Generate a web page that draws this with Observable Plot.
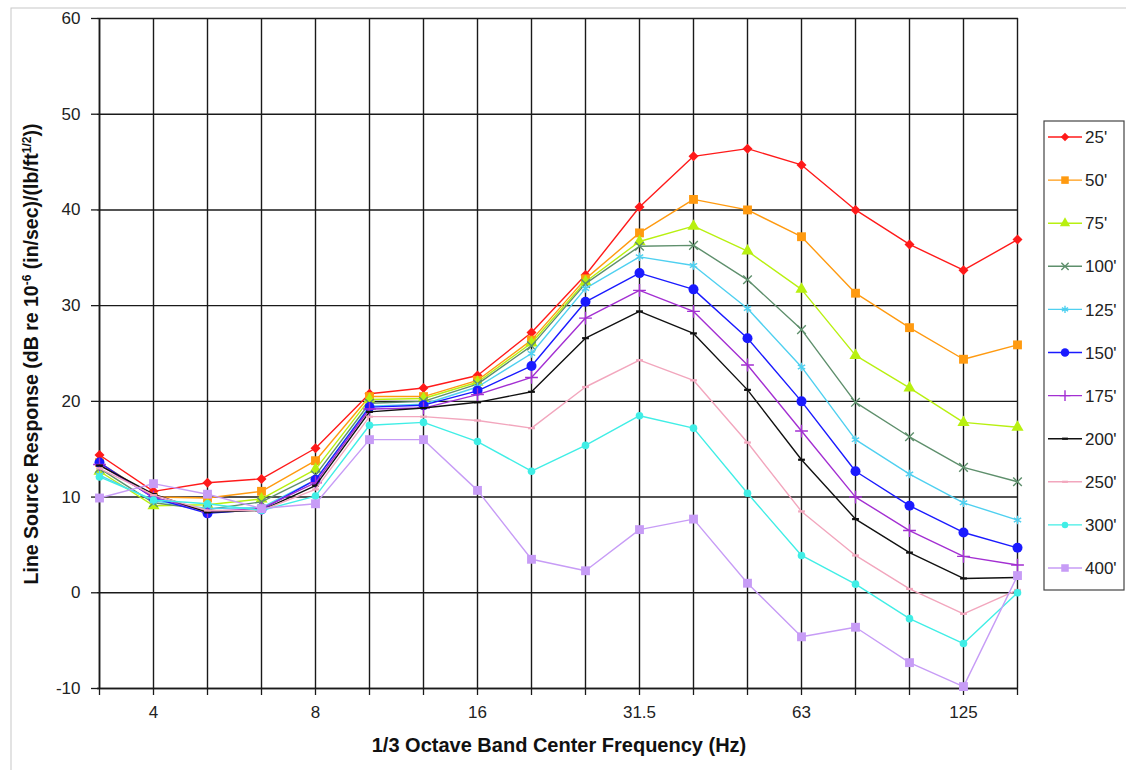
<!DOCTYPE html>
<html><head><meta charset="utf-8">
<script src="https://cdn.jsdelivr.net/npm/d3@7"></script>
<script src="https://cdn.jsdelivr.net/npm/@observablehq/plot@0.6"></script>
<style>
body{margin:0;background:#fff;}
svg{display:block;}
</style>
</head><body><div id="chart"></div>
<script>
const freqs = ["3.15","4","5","6.3","8","10","12.5","16","20","25","31.5","40","50","63","80","100","125","160"];
const xTickLabels = ["4","8","16","31.5","63","125"];
const yTicks = [-10,0,10,20,30,40,50,60];
const seriesNames = ["25'","50'","75'","100'","125'","150'","175'","200'","250'","300'","400'"];
const seriesColors = ["#ff1a1a","#ff9a10","#b8f010","#5e8f6c","#4fd0f0","#1a1aff","#a32fd2","#111111","#f2a6bd","#40eee6","#c79cf6"];

const s25  = [14.4,10.6,11.5,11.9,15.1,20.8,21.4,22.7,27.2,33.2,40.3,45.6,46.4,44.7,40.0,36.4,33.7,36.9];
const s50  = [13.6,10.0, 9.9,10.6,13.8,20.5,20.5,22.2,26.4,32.8,37.6,41.1,40.0,37.2,31.3,27.7,24.4,25.9];
const s75  = [12.7, 9.1, 9.2, 9.8,12.9,20.2,20.3,22.0,26.1,32.5,36.7,38.3,35.7,31.7,24.8,21.4,17.8,17.3];
const s100 = [13.0, 9.4, 8.7, 9.5,12.3,19.8,20.0,21.8,25.8,32.3,36.2,36.3,32.7,27.5,19.9,16.3,13.1,11.6];
const s125 = [12.3, 9.6, 8.8, 8.9,11.8,19.5,19.7,21.5,25.0,31.8,35.1,34.2,29.7,23.6,16.0,12.4, 9.4, 7.6];
const s150 = [13.6, 9.9, 8.3, 8.7,11.8,19.4,19.6,21.1,23.7,30.4,33.4,31.7,26.6,20.0,12.7, 9.1, 6.3, 4.7];
const s175 = [13.4,10.0, 8.5, 8.8,11.5,19.2,19.3,20.7,22.5,28.7,31.6,29.4,23.8,16.9,10.0, 6.5, 3.8, 2.9];
const s200 = [13.3,10.3, 8.4, 8.6,11.2,18.9,19.3,19.9,21.0,26.6,29.4,27.1,21.2,13.9, 7.7, 4.2, 1.5, 1.6];
const s250 = [13.0,10.2, 8.6, 8.6,10.8,18.4,18.4,18.0,17.2,21.5,24.3,22.2,15.7, 8.5, 3.9, 0.4,-2.2, 0.3];
const s300 = [12.1, 9.7, 9.3, 8.6,10.1,17.5,17.8,15.8,12.7,15.4,18.5,17.2,10.4, 3.9, 0.9,-2.7,-5.3, 0.0];
const s400 = [ 9.9,11.4,10.3, 8.8, 9.3,16.0,16.0,10.7, 3.5, 2.3, 6.6, 7.7, 1.0,-4.6,-3.6,-7.3,-9.8, 1.8];
const seriesValues = [s25,s50,s75,s100,s125,s150,s175,s200,s250,s300,s400];

const data = [];
seriesNames.forEach((s,i)=>seriesValues[i].forEach((v,j)=>data.push({series:s, freq:freqs[j], value:v})));

const dash = {draw(ctx,size){const w=Math.sqrt(size)*0.55; ctx.moveTo(-w,0); ctx.lineTo(w,0);}};
const markerSpec = [
  {symbol:"diamond2", filled:true,  r:4.5},
  {symbol:"square",   filled:true,  r:5},
  {symbol:"triangle", filled:true,  r:4.5},
  {symbol:"times",    filled:false, r:4},
  {symbol:"asterisk", filled:false, r:4},
  {symbol:"circle",   filled:true,  r:5},
  {symbol:"plus",     filled:false, r:4.2},
  {symbol:dash,       filled:false, r:3.5},
  {symbol:dash,       filled:false, r:3.5},
  {symbol:"circle",   filled:true,  r:3.8},
  {symbol:"square",   filled:true,  r:5}
];

const FONT = '"Liberation Sans", Arial, sans-serif';
const marks = [
  Plot.gridX(freqs, {stroke:"#1a1a1a", strokeOpacity:1, strokeWidth:1.4}),
  Plot.gridY(yTicks, {stroke:"#1a1a1a", strokeOpacity:1, strokeWidth:1.4}),
  Plot.ruleX([freqs[0]], {stroke:"#1a1a1a", strokeWidth:1.6}),
  Plot.ruleY([-10], {stroke:"#1a1a1a", strokeWidth:1.6}),
  Plot.axisX(freqs, {tickSize:7, text:null, stroke:"#1a1a1a", strokeWidth:1.3, label:null}),
  Plot.axisX(xTickLabels, {tickSize:0, tickPadding:17, fontSize:17, fill:"#222", label:null}),
  Plot.axisY(yTicks, {tickSize:6, tickPadding:11, fontSize:17, fill:"#222", stroke:"#1a1a1a", strokeWidth:1.3, label:null, tickFormat:d=>String(d)})
];
seriesNames.forEach((s,i)=>{
  const sub = data.filter(d=>d.series===s);
  const m = markerSpec[i];
  marks.push(Plot.line(sub, {x:"freq", y:"value", stroke:"series", strokeWidth:1.4}));
  const dotOpts = {x:"freq", y:"value", symbol:m.symbol, r:m.r};
  if (m.filled) { dotOpts.fill = "series"; }
  else { dotOpts.stroke = "series"; dotOpts.strokeWidth = (m.symbol===dash?2.2:1.4); dotOpts.fill = "none"; }
  marks.push(Plot.dot(sub, dotOpts));
});

const chart = Plot.plot({
  width:1126, height:770,
  marginLeft:97, marginRight:108, marginTop:18, marginBottom:82,
  style:{fontFamily:FONT, background:"#fff", overflow:"visible"},
  x:{type:"point", domain:freqs, padding:0},
  y:{domain:[-10,60]},
  color:{domain:seriesNames, range:seriesColors},
  marks
});
document.getElementById("chart").appendChild(chart);

const svg = d3.select(chart);
// outer chart-area border
svg.insert("rect", ":first-child").attr("x",11).attr("y",8).attr("width",1200).attr("height",800)
  .attr("fill","none").attr("stroke","#c8c8c8").attr("stroke-width",1);

// axis titles
svg.append("text").attr("x",559).attr("y",752).attr("text-anchor","middle")
  .attr("font-family",FONT).attr("font-weight","bold").attr("font-size",20).attr("fill","#111")
  .text("1/3 Octave Band Center Frequency (Hz)");
const yt = svg.append("text").attr("transform","translate(38,354) rotate(-90)").attr("text-anchor","middle")
  .attr("font-family",FONT).attr("font-weight","bold").attr("font-size",19.5).attr("fill","#111");
yt.append("tspan").text("Line Source Response (dB re 10");
yt.append("tspan").attr("dy",-7).attr("font-size",12).text("-6");
yt.append("tspan").attr("dy",7).text(" (in/sec)/(lb/ft");
yt.append("tspan").attr("dy",-7).attr("font-size",12).text("1/2");
yt.append("tspan").attr("dy",7).text("))");

// legend
const lg = svg.append("g").attr("text-anchor","start");
lg.append("rect").attr("x",1044).attr("y",121).attr("width",80).attr("height",469)
  .attr("fill","#fff").attr("stroke","#444").attr("stroke-width",1.2);
const symMap = {diamond2:d3.symbolDiamond2, square:d3.symbolSquare, triangle:d3.symbolTriangle, times:d3.symbolTimes,
  asterisk:d3.symbolAsterisk, circle:d3.symbolCircle, plus:d3.symbolPlus};
seriesNames.forEach((s,i)=>{
  const y = 137 + i*43.1;
  const c = seriesColors[i];
  const m = markerSpec[i];
  lg.append("line").attr("x1",1048).attr("x2",1082).attr("y1",y).attr("y2",y).attr("stroke",c).attr("stroke-width",1.4);
  const type = typeof m.symbol === "string" ? symMap[m.symbol] : m.symbol;
  const rr = m.r*0.85;
  const p = lg.append("path").attr("transform",`translate(1065,${y})`).attr("d", d3.symbol(type, Math.PI*rr*rr)());
  if (m.filled) p.attr("fill",c); else p.attr("fill","none").attr("stroke",c).attr("stroke-width", m.symbol===dash?2.2:1.4);
  lg.append("text").attr("x",1085).attr("y",y).attr("dy","0.36em").attr("text-anchor","start")
    .attr("font-family",FONT).attr("font-size",17).attr("fill","#222").text(s);
});
</script>
</body></html>
